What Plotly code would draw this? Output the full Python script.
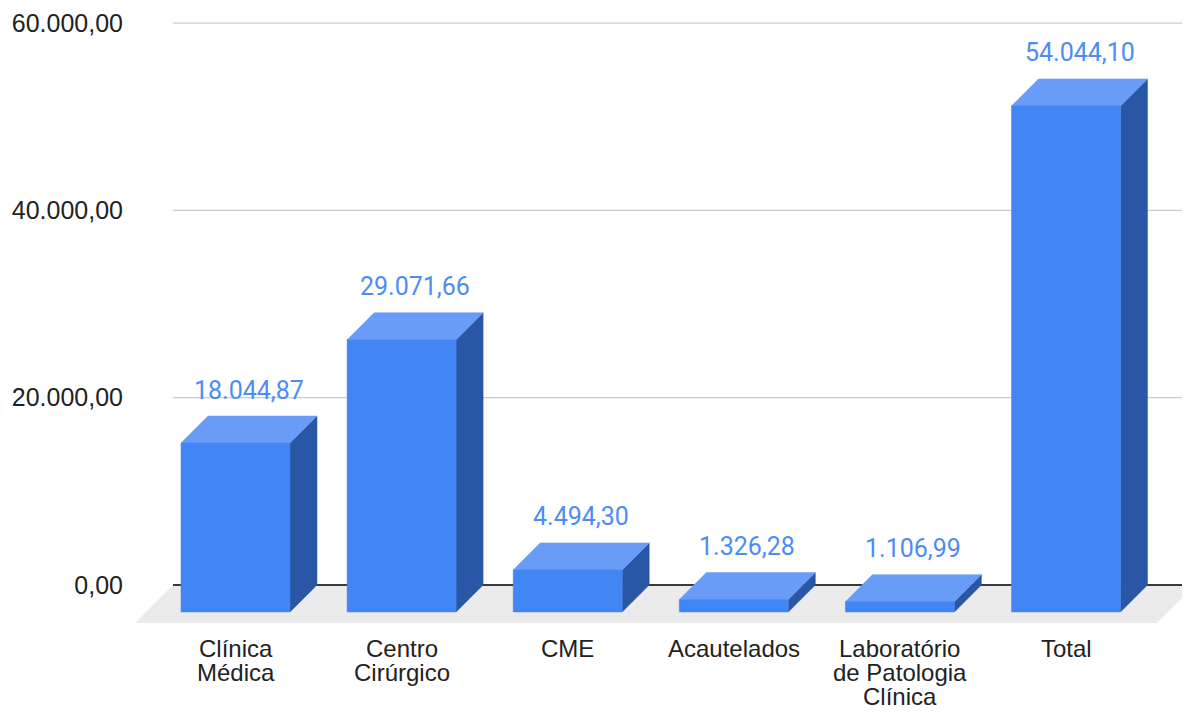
import plotly.graph_objects as go

# ---------------- data ----------------
categories = ["Clínica\nMédica", "Centro\nCirúrgico", "CME", "Acautelados",
              "Laboratório\nde Patologia\nClínica", "Total"]
values = [18044.87, 29071.66, 4494.30, 1326.28, 1106.99, 54044.10]
y_ticks = [0, 20000, 40000, 60000]

# ---------------- geometry (pixels, page coordinates) ----------------
BODY = 8               # default page margin around the figure
FIG_W, FIG_H = 1190 - BODY, 713 - BODY
PLOT_L, PLOT_R, PLOT_T, PLOT_B = 135 - BODY, 1190 - BODY, 18 - BODY, 623 - BODY
X0_PX = 235.5 - BODY   # pixel of first category (front face centre)
STEP_PX = 166.1        # pixels per category
Y0_PX = 585.0 - BODY   # pixel of value 0 on the back wall
YPU = 187.3 / 20000    # pixels per value unit
BAR_W_PX = 109
DEPTH_PX = 27          # bar depth (45 deg)
FLOOR_PX = 38          # floor depth
WALL_L_PX = 173 - BODY # back wall left edge
WALL_R_PX = 1195 - BODY

px_x = lambda p: (p - X0_PX) / STEP_PX
x_range = [px_x(PLOT_L), px_x(PLOT_R)]
y_range = [(Y0_PX - PLOT_B) / YPU, (Y0_PX - PLOT_T) / YPU]

W = BAR_W_PX / STEP_PX
DX = DEPTH_PX / STEP_PX
DY = DEPTH_PX / YPU
FX = FLOOR_PX / STEP_PX
FY = FLOOR_PX / YPU
XL = px_x(WALL_L_PX)
XR = px_x(WALL_R_PX)

C_FRONT = "#4285F4"
C_TOP = "#699CF6"
C_SIDE = "#2A56A6"
C_FLOOR = "#EBEBEB"
C_GRID = "#CCCCCC"
C_ZERO = "#3A3A3A"
C_LABEL = "#4D8CF5"
C_TEXT = "#222222"


def fmt_br(v):
    s = f"{v:,.2f}"
    return s.replace(",", "X").replace(".", ",").replace("X", ".")


fig = go.Figure()

# floor
fig.add_trace(go.Scatter(
    x=[XL, XR, XR - FX, XL - FX, XL], y=[0, 0, -FY, -FY, 0],
    mode="lines", fill="toself", fillcolor=C_FLOOR, line=dict(width=0),
    hoverinfo="skip", showlegend=False))

# gridlines on the back wall
gx, gy = [], []
for t in y_ticks:
    if t == 0:
        continue
    gx += [XL, x_range[1], None]
    gy += [t, t, None]
fig.add_trace(go.Scatter(x=gx, y=gy, mode="lines",
                         line=dict(color=C_GRID, width=1.2),
                         hoverinfo="skip", showlegend=False))
fig.add_trace(go.Scatter(x=[XL, x_range[1]], y=[0, 0], mode="lines",
                         line=dict(color=C_ZERO, width=1.8),
                         hoverinfo="skip", showlegend=False))

# bars
fx, fy, tx, ty, sx, sy = [], [], [], [], [], []
for i, v in enumerate(values):
    l, r = i - W / 2, i + W / 2
    fx += [l, r, r, l, l, None]
    fy += [-DY, -DY, v - DY, v - DY, -DY, None]
    tx += [l, r, r + DX, l + DX, l, None]
    ty += [v - DY, v - DY, v, v, v - DY, None]
    sx += [r, r + DX, r + DX, r, r, None]
    sy += [-DY, 0, v, v - DY, -DY, None]

for xs, ys, col in [(sx, sy, C_SIDE), (tx, ty, C_TOP), (fx, fy, C_FRONT)]:
    fig.add_trace(go.Scatter(x=xs, y=ys, mode="lines", fill="toself",
                             fillcolor=col, line=dict(width=0.5, color=col),
                             hoverinfo="skip", showlegend=False))

annotations = []
# value labels
for i, v in enumerate(values):
    annotations.append(dict(
        x=i + DX / 2, y=v, xref="x", yref="y", text=fmt_br(v),
        showarrow=False, yanchor="middle", yshift=26,
        font=dict(family="Roboto", size=25, color=C_LABEL)))

# category labels (multi-line, tight spacing)
for i, c in enumerate(categories):
    for j, line in enumerate(c.split("\n")):
        annotations.append(dict(
            x=i, y=0, xref="x", yref="paper", text=line, showarrow=False,
            yanchor="middle", yshift=-25 - 24 * j,
            font=dict(family="Liberation Sans, Arial", size=24, color=C_TEXT)))

fig.update_layout(
    width=FIG_W, height=FIG_H,
    margin=dict(l=PLOT_L, r=FIG_W - PLOT_R, t=PLOT_T, b=FIG_H - PLOT_B),
    paper_bgcolor="white", plot_bgcolor="white",
    separators=",.",
    showlegend=False,
    annotations=annotations,
    xaxis=dict(range=x_range, showgrid=False, zeroline=False,
               showticklabels=False, showline=False, fixedrange=True),
    yaxis=dict(range=y_range, showgrid=False, zeroline=False, showline=False,
               tickvals=y_ticks, tickformat=",.2f", ticks="",
               ticklabelstandoff=11,
               tickfont=dict(family="Liberation Sans, Arial", size=25,
                             color=C_TEXT),
               fixedrange=True),
)

fig.write_html("out.html")
